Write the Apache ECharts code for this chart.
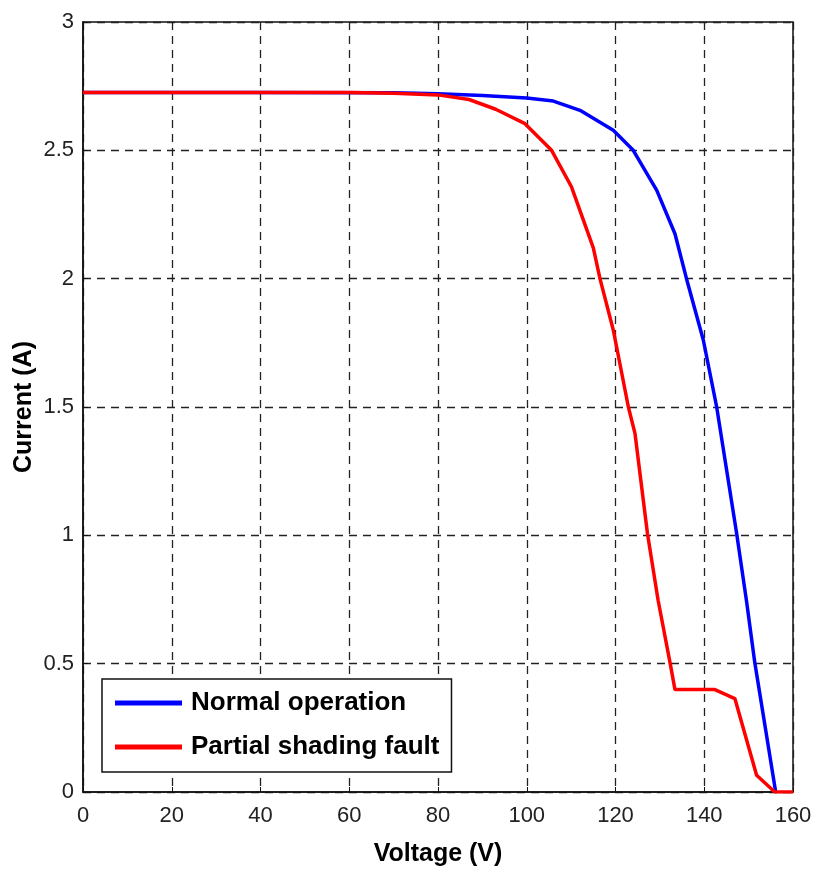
<!DOCTYPE html>
<html>
<head>
<meta charset="utf-8">
<script src="https://cdn.jsdelivr.net/npm/echarts@6/dist/echarts.min.js"></script>
<style>
  html, body { margin: 0; padding: 0; background: #fff; }
  #chart { width: 814px; height: 869px; }
</style>
</head>
<body>
<div id="chart"></div>
<script>
// values
const normalVoltage = [0, 40, 70, 80, 90, 100, 106, 112, 119.5, 124, 129.3, 133.4, 136, 139.8, 142.8, 147.3, 149.5, 151.4, 156.1];
const normalCurrent = [2.725, 2.725, 2.724, 2.72, 2.714, 2.704, 2.692, 2.656, 2.578, 2.5, 2.344, 2.175, 2.0, 1.76, 1.5, 1.007, 0.747, 0.503, 0];

const shadedVoltage = [0, 60, 70, 80, 87, 93, 99.6, 105.6, 110.1, 115, 116.5, 119.5, 122.9, 124.4, 127.2, 129.6, 132.3, 133.4, 142.4, 146.9, 151.8, 155.9, 160];
const shadedCurrent = [2.725, 2.725, 2.722, 2.716, 2.698, 2.66, 2.604, 2.5, 2.357, 2.12, 2.0, 1.8, 1.5, 1.396, 1.007, 0.747, 0.503, 0.399, 0.399, 0.364, 0.065, 0, 0];

const seriesNames = ["Normal operation", "Partial shading fault"];

function pairs(xs, ys) {
  return xs.map((x, i) => [x, ys[i]]);
}

const chart = echarts.init(document.getElementById("chart"));

const gridLine = {
  show: true,
  lineStyle: { color: "#222", width: 1.3, type: [8, 6] }
};

let option = {
  animation: false,
  backgroundColor: "#fff",
  textStyle: { fontFamily: "Liberation Sans, Arial, sans-serif" },
  grid: {
    left: 83,
    right: 21,
    top: 22,
    bottom: 77,
    containLabel: false,
    outerBoundsMode: "none",
    show: true,
    borderColor: "#111",
    borderWidth: 1.5
  },
  legend: {
    orient: "vertical",
    left: 102,
    top: 679,
    padding: [9, 12, 10, 13],
    backgroundColor: "#fff",
    borderColor: "#111",
    borderWidth: 1.5,
    borderRadius: 0,
    icon: "rect",
    itemWidth: 67,
    itemHeight: 5,
    itemGap: 14,
    data: seriesNames,
    textStyle: {
      fontSize: 26,
      fontWeight: "bold",
      color: "#000",
      lineHeight: 30,
      padding: [0, 0, 0, 4]
    }
  },
  xAxis: {
    type: "value",
    min: 0,
    max: 160,
    interval: 20,
    name: "Voltage (V)",
    nameLocation: "middle",
    nameGap: 50,
    nameTextStyle: { fontSize: 25, fontWeight: "bold", color: "#000" },
    axisLine: { show: true, onZero: false, lineStyle: { color: "#111", width: 1.5 } },
    axisTick: { show: true, inside: true, length: 5, lineStyle: { color: "#111" } },
    axisLabel: { fontSize: 22, color: "#222", margin: 13 },
    splitLine: gridLine
  },
  yAxis: {
    type: "value",
    min: 0,
    max: 3,
    interval: 0.5,
    name: "Current (A)",
    nameLocation: "middle",
    nameGap: 46,
    nameMoveOverlap: false,
    nameTextStyle: { fontSize: 25, fontWeight: "bold", color: "#000" },
    axisLine: { show: true, onZero: false, lineStyle: { color: "#111", width: 1.5 } },
    axisTick: { show: true, inside: true, length: 5, lineStyle: { color: "#111" } },
    axisLabel: { fontSize: 22, color: "#222", margin: 9 },
    splitLine: gridLine
  },
  series: [
    {
      name: seriesNames[0],
      type: "line",
      data: pairs(normalVoltage, normalCurrent),
      showSymbol: false,
      symbol: "none",
      color: "#0000ff",
      lineStyle: { color: "#0000ff", width: 3.5 },
      z: 2
    },
    {
      name: seriesNames[1],
      type: "line",
      data: pairs(shadedVoltage, shadedCurrent),
      showSymbol: false,
      symbol: "none",
      color: "#ff0000",
      lineStyle: { color: "#ff0000", width: 3.5 },
      z: 3
    }
  ]
};

chart.setOption(option);
</script>
</body>
</html>
